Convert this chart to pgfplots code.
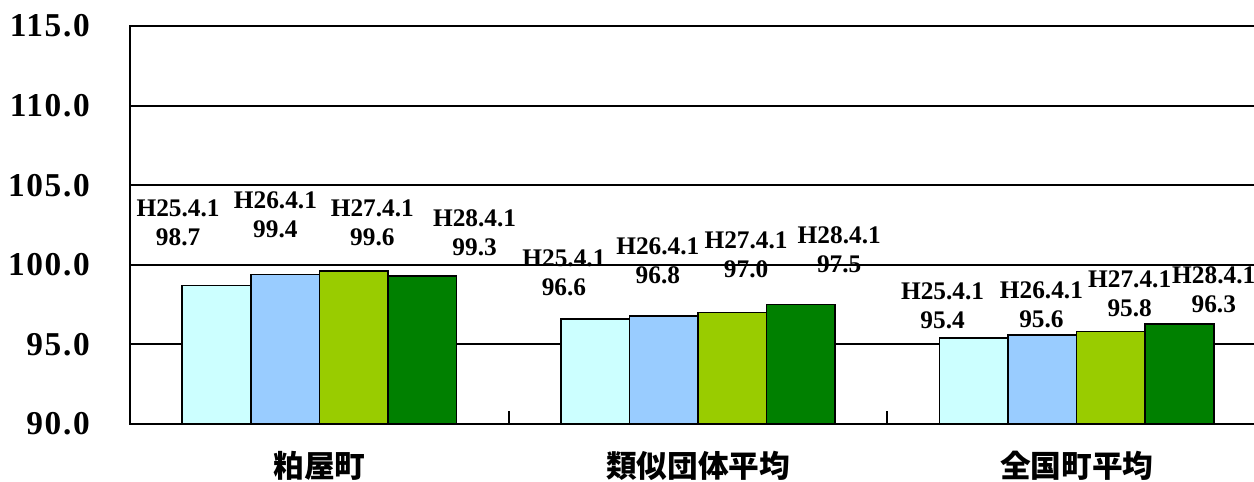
\documentclass[border=0pt]{standalone}
\usepackage{pgfplots}
\pgfplotsset{compat=1.18}
\usepackage{fontspec}
\setmainfont{Liberation Serif}
\newfontfamily\tickfont{Liberation Serif}[LetterSpace=5]
\newfontfamily\cjk{Noto Sans CJK JP}
\definecolor{c1}{HTML}{CCFFFF}
\definecolor{c2}{HTML}{99CCFF}
\definecolor{c3}{HTML}{99CC00}
\definecolor{c4}{HTML}{008000}
\tikzset{lbl/.style={font=\bfseries\fontsize{19}{21.75}\selectfont, align=center, inner sep=0pt}}
\begin{document}
\begin{tikzpicture}
\useasboundingbox (0,0) rectangle (940.5pt,361.5pt);
\begin{axis}[
  at={(97.5pt,43.5pt)}, anchor=south west,
  scale only axis, width=852pt, height=298.5pt,
  xmin=-0.5, xmax=2.5, ymin=90, ymax=115,
  ytick={90,95,100,105,110,115},
  yticklabels={90.0,95.0,100.0,105.0,110.0,115.0},
  xtick={0,1,2},
  xticklabels={粕屋町,類似団体平均,全国町平均},
  minor xtick={0.5,1.5},
  xtick pos=bottom, ytick pos=left,
  major tick length=0pt, minor tick length=10pt,
  every minor tick/.append style={black, line width=1.5pt},
  ymajorgrids, major grid style={black, line width=1.4pt},
  axis line style={black, line width=1.6pt},
  yticklabel style={font=\tickfont\bfseries\fontsize{25}{25}\selectfont, inner sep=0pt, xshift=-30pt},
  xticklabel style={font=\cjk\bfseries\fontsize{23}{23}\selectfont, anchor=base, yshift=-40.5pt},
  clip mode=individual,
]
\addplot[ybar, bar width=0.1812, bar shift=-0.2718, fill=c1, draw=black, line width=1.2pt] coordinates {(0,98.7) (1,96.6) (2,95.4)};
\addplot[ybar, bar width=0.1812, bar shift=-0.0906, fill=c2, draw=black, line width=1.2pt] coordinates {(0,99.4) (1,96.8) (2,95.6)};
\addplot[ybar, bar width=0.1812, bar shift=0.0906, fill=c3, draw=black, line width=1.2pt] coordinates {(0,99.6) (1,97.0) (2,95.8)};
\addplot[ybar, bar width=0.1812, bar shift=0.2718, fill=c4, draw=black, line width=1.2pt] coordinates {(0,99.3) (1,97.5) (2,96.3)};
\node[lbl] at (axis cs:-0.373,102.66) {H25.4.1\\98.7};
\node[lbl] at (axis cs:-0.116,103.16) {H26.4.1\\99.4};
\node[lbl] at (axis cs:0.140,102.66) {H27.4.1\\99.6};
\node[lbl] at (axis cs:0.410,102.03) {H28.4.1\\99.3};
\node[lbl] at (axis cs:0.646,99.52) {H25.4.1\\96.6};
\node[lbl] at (axis cs:0.894,100.24) {H26.4.1\\96.8};
\node[lbl] at (axis cs:1.127,100.62) {H27.4.1\\97.0};
\node[lbl] at (axis cs:1.373,100.93) {H28.4.1\\97.5};
\node[lbl] at (axis cs:1.646,97.41) {H25.4.1\\95.4};
\node[lbl] at (axis cs:1.907,97.47) {H26.4.1\\95.6};
\node[lbl] at (axis cs:2.140,98.17) {H27.4.1\\95.8};
\node[lbl] at (axis cs:2.362,98.45) {H28.4.1\\96.3};
\end{axis}
\end{tikzpicture}
\end{document}
